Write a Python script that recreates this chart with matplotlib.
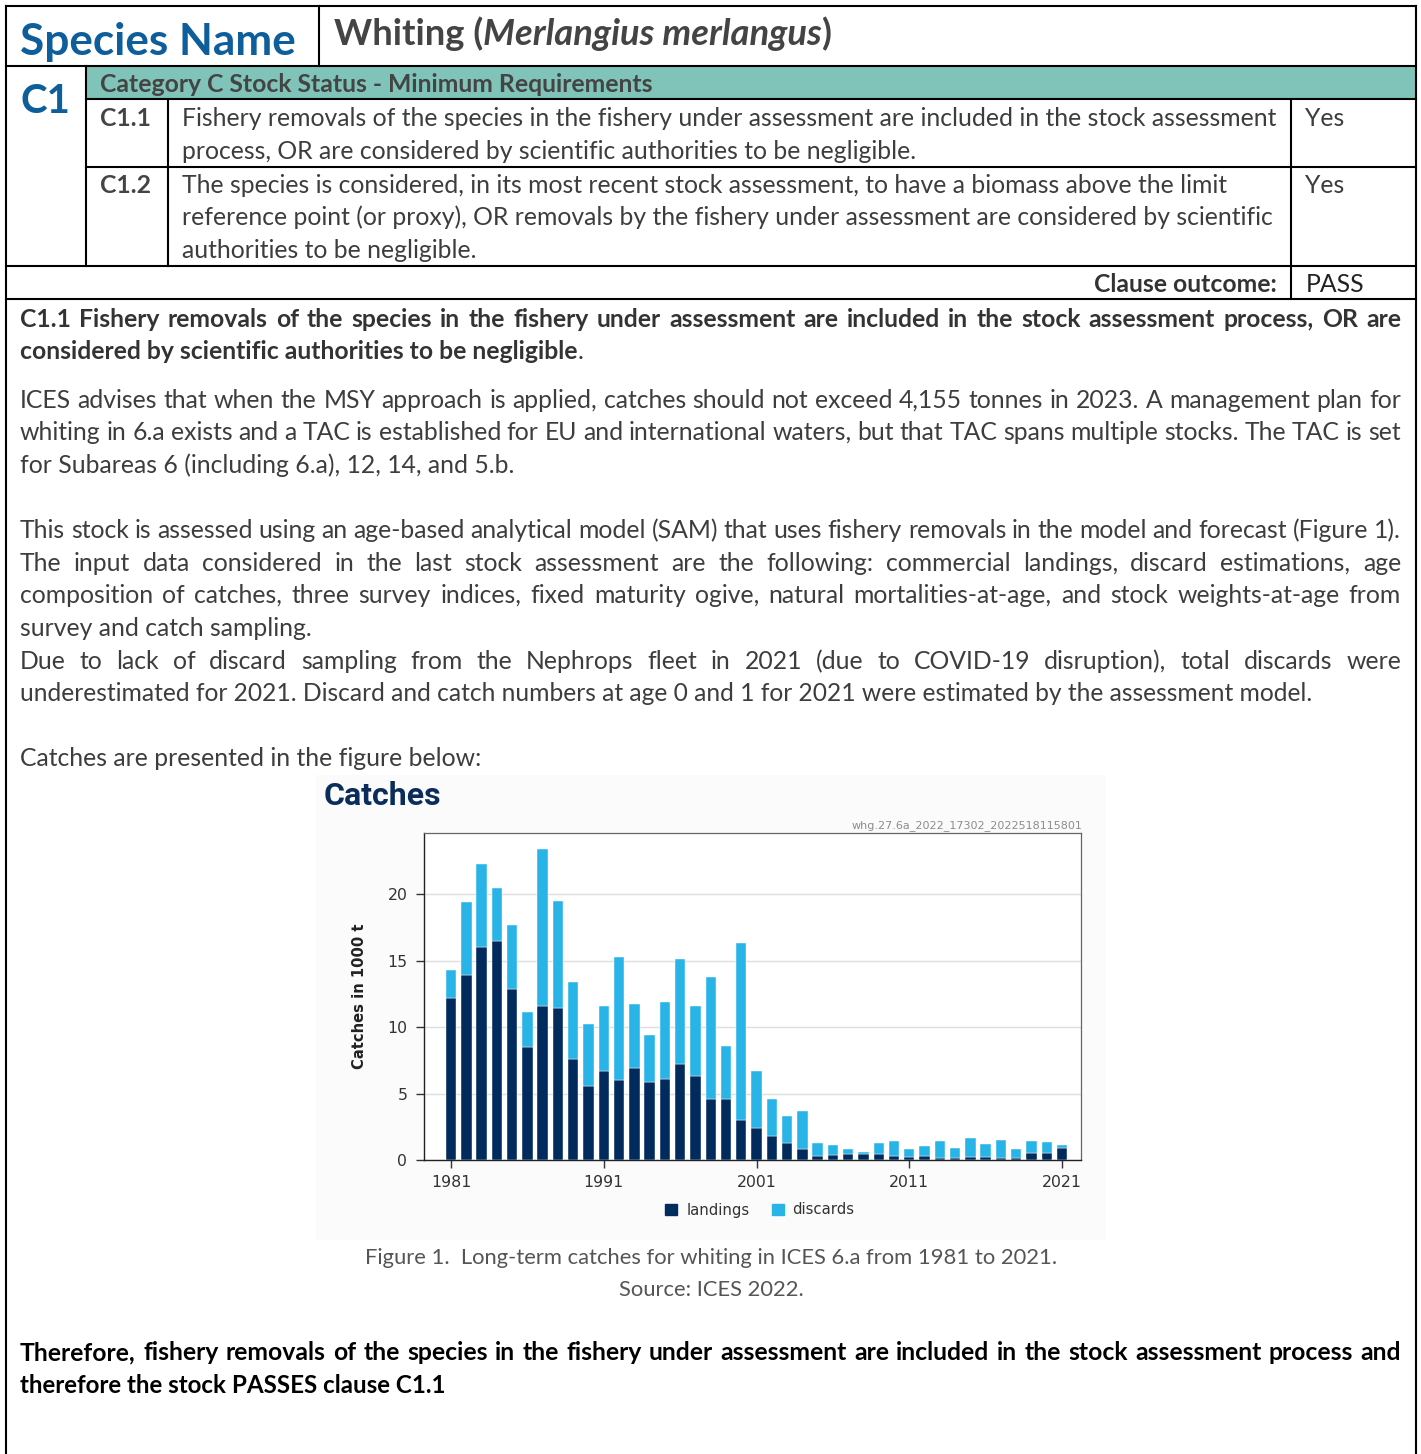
import matplotlib
matplotlib.use("Agg")
import matplotlib.pyplot as plt
from matplotlib.font_manager import FontProperties
from matplotlib.patches import Rectangle, Patch

# Catches data (1000 t)
years = list(range(1981, 2022))
landings = [12.2, 13.9, 16.0, 16.5, 12.9, 8.5, 11.6, 11.4, 7.6, 5.6,
            6.7, 6.0, 6.9, 5.9, 6.1, 7.2, 6.3, 4.6, 4.6, 3.0,
            2.4, 1.8, 1.3, 0.8, 0.33, 0.40, 0.48, 0.48, 0.48, 0.33,
            0.25, 0.33, 0.18, 0.18, 0.25, 0.25, 0.18, 0.18, 0.50, 0.55, 0.88]
discards = [2.1, 5.5, 6.3, 4.0, 4.8, 2.6, 11.8, 8.1, 5.8, 4.6,
            4.9, 9.3, 4.8, 3.5, 5.8, 7.9, 5.3, 9.2, 4.0, 13.3,
            4.3, 2.8, 2.0, 2.9, 0.95, 0.73, 0.35, 0.12, 0.80, 1.13,
            0.58, 0.75, 1.28, 0.75, 1.44, 0.98, 1.33, 0.65, 0.93, 0.81, 0.25]
year_ticks = [1981, 1991, 2001, 2011, 2021]
y_ticks = [0, 5, 10, 15, 20]

FONT = "Lato"
BODY = 17.8
TXT = "#3d3d3d"
BLUE = "#0f5e9c"
NAVY = "#012b5d"
LIGHT = "#29b4e8"

W, H = 1421, 1454
fig = plt.figure(figsize=(W / 100, H / 100), dpi=100)
doc = fig.add_axes([0, 0, 1, 1])
doc.set_xlim(0, W)
doc.set_ylim(H, 0)
doc.axis("off")
R = fig.canvas.get_renderer()


def tw(s, size=BODY, weight="normal", style="normal"):
    fp = FontProperties(family=FONT, size=size, weight=weight, style=style)
    return R.get_text_width_height_descent(s, fp, ismath=False)[0]


def put(x, y, s, size=BODY, weight="normal", style="normal", color=TXT, ha="left"):
    doc.text(x, y, s, fontsize=size, fontweight=weight, fontstyle=style,
             color=color, family=FONT, va="baseline", ha=ha)


def runs(x, y, parts, size=BODY, color=TXT):
    for s, wt, st in parts:
        put(x, y, s, size, wt, st, color)
        x += tw(s, size, wt, st)


def just(y, s, weight="normal", color=TXT, x0=20, x1=1401, size=BODY):
    words = s.split()
    ws = [tw(w, size, weight) for w in words]
    gap = (x1 - x0 - sum(ws)) / (len(words) - 1)
    x = x0
    for w, d in zip(words, ws):
        put(x, y, w, size, weight, color=color)
        x += d + gap


def hline(y, x0, x1):
    doc.plot([x0, x1], [y, y], color="k", lw=1.5, solid_capstyle="projecting")


def vline(x, y0, y1):
    doc.plot([x, x], [y0, y1], color="k", lw=1.5, solid_capstyle="projecting")


# ---- table frame ----
doc.add_patch(Rectangle((86, 67), 1330, 32, color="#80c3b8", lw=0))
hline(6, 6, 1416)
hline(66, 6, 1416)
hline(99, 86, 1416)
hline(167, 86, 1416)
hline(266, 6, 1416)
hline(299, 6, 1416)
vline(6, 6, H)
vline(1416, 6, H)
vline(319, 6, 66)
vline(86, 66, 266)
vline(168, 99, 266)
vline(1291, 99, 299)

put(20, 55, "Species Name", size=31.8, weight="bold", color=BLUE)
runs(334, 45, [("Whiting (", "bold", "normal"),
               ("Merlangius merlangus", "bold", "italic"),
               (")", "bold", "normal")], size=26.2, color="#444444")
put(20, 113, "C1", size=29, weight="bold", color=BLUE)
put(100, 92, "Category C Stock Status - Minimum Requirements", weight="bold", color="#444444")

put(100, 126, "C1.1", weight="bold", color="#444444")
put(182, 126, "Fishery removals of the species in the fishery under assessment are included in the stock assessment")
put(182, 159, "process, OR are considered by scientific authorities to be negligible.")
put(1305, 126, "Yes")
put(100, 193, "C1.2", weight="bold", color="#444444")
put(182, 193, "The species is considered, in its most recent stock assessment, to have a biomass above the limit")
put(182, 225, "reference point (or proxy), OR removals by the fishery under assessment are considered by scientific")
put(182, 258, "authorities to be negligible.")
put(1305, 193, "Yes")
put(1277, 292, "Clause outcome:", weight="bold", color="#333333", ha="right")
put(1306, 292, "PASS", color="#222222")

# ---- body text ----
just(327, "C1.1 Fishery removals of the species in the fishery under assessment are included "
          "in the stock assessment process, OR are", weight="bold", color="#333333")
runs(20, 359, [("considered by scientific authorities to be negligible", "bold", "normal"),
               (".", "normal", "normal")], color="#333333")
just(408, "ICES advises that when the MSY approach is applied, catches should not exceed 4,155 "
          "tonnes in 2023. A management plan for")
just(440, "whiting in 6.a exists and a TAC is established for EU and international waters, but "
          "that TAC spans multiple stocks. The TAC is set")
put(20, 473, "for Subareas 6 (including 6.a), 12, 14, and 5.b.")
just(538, "This stock is assessed using an age-based analytical model (SAM) that uses fishery "
          "removals in the model and forecast (Figure 1).")
just(571, "The input data considered in the last stock assessment are the following: commercial "
          "landings, discard estimations, age")
just(603, "composition of catches, three survey indices, fixed maturity ogive, natural "
          "mortalities-at-age, and stock weights-at-age from")
put(20, 636, "survey and catch sampling.")
just(669, "Due to lack of discard sampling from the Nephrops fleet in 2021 (due to COVID-19 "
          "disruption), total discards were")
put(20, 701, "underestimated for 2021. Discard and catch numbers at age 0 and 1 for 2021 were "
             "estimated by the assessment model.", size=17.7)
put(20, 766, "Catches are presented in the figure below:")

# ---- embedded chart ----
doc.add_patch(Rectangle((316, 775), 790, 465, color="#fbfbfb", lw=0))
doc.text(324, 805, "Catches", fontsize=23, fontweight="bold", color="#0b2d5b",
         family="Roboto", va="baseline")
doc.text(1082, 828, "whg.27.6a_2022_17302_2022518115801", fontsize=8,
         color="#8c8c8c", family="DejaVu Sans", ha="right", va="baseline")

ax = fig.add_axes([424 / W, 1 - 1160 / H, (1081 - 424) / W, (1160 - 833) / H])
ax.set_facecolor("white")
ax.bar(years, landings, width=0.68, color=NAVY, edgecolor="white", lw=0.3, zorder=3)
ax.bar(years, discards, width=0.68, bottom=landings, color=LIGHT, edgecolor="white",
       lw=0.3, zorder=3)
ax.set_xlim(1979.23, 2022.24)
ax.set_ylim(0, 24.6)
ax.set_xticks(year_ticks)
ax.set_yticks(y_ticks)
ax.tick_params(labelsize=11.3, labelcolor="#333333", length=6, width=1, color="#333333")
ax.tick_params(axis="y", pad=6)
ax.tick_params(axis="x", pad=5)
ax.yaxis.grid(True, color="#dedede", lw=1)
ax.set_axisbelow(True)
for side in ["top", "right"]:
    ax.spines[side].set_color("#666666")
    ax.spines[side].set_linewidth(0.9)
for side in ["left", "bottom"]:
    ax.spines[side].set_color("#222222")
    ax.spines[side].set_linewidth(1.0)
ax.set_ylabel("Catches in 1000 t", fontsize=10.6, fontweight="bold", color="#222222")
ax.yaxis.set_label_coords(-0.086, 0.5)
handles = [Patch(color=NAVY, label="landings"), Patch(color=LIGHT, label="discards")]
ax.legend(handles=handles, loc="center", bbox_to_anchor=(336 / 657, -50 / 327), ncol=2,
          frameon=False, fontsize=10.7, handlelength=0.8, handleheight=0.8,
          columnspacing=1.5, handletextpad=0.6, labelcolor="#333333")

put(711, 1264, "Figure 1.  Long-term catches for whiting in ICES 6.a from 1981 to 2021.", ha="center",
    size=15.8, color="#555555")
put(711, 1296, "Source: ICES 2022.", ha="center", size=15.8, color="#555555")

just(1360, "Therefore, fishery removals of the species in the fishery under assessment are "
           "included in the stock assessment process and", weight="bold", color="#000000")
put(20, 1393, "therefore the stock PASSES clause C1.1", size=17.4, weight="bold", color="#000000")

fig.savefig("out.png", dpi=100)
